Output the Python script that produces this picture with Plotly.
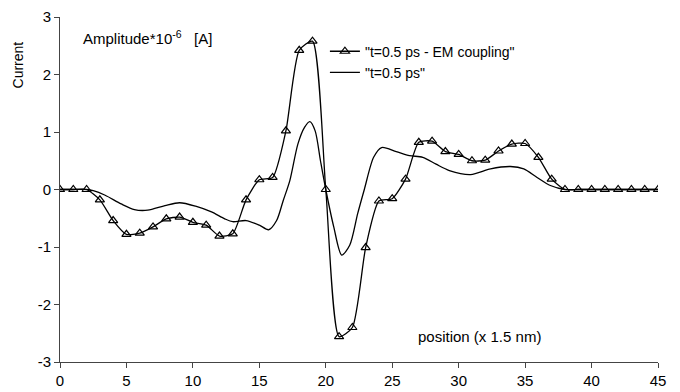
import plotly.graph_objects as go

# Triangle series: "t=0.5 ps - EM coupling" at integer positions 0..45
em_x = list(range(46))
em_y = [0, 0, 0, -0.18, -0.54, -0.78, -0.76, -0.65, -0.51, -0.48,
        -0.57, -0.62, -0.81, -0.77, -0.18, 0.17, 0.21, 1.02, 2.42, 2.58,
        0.0, -2.56, -2.40, -1.01, -0.20, -0.16, 0.18, 0.82, 0.84, 0.66,
        0.61, 0.50, 0.51, 0.67, 0.79, 0.80, 0.56, 0.18, 0, 0,
        0, 0, 0, 0, 0, 0]

# Smooth series: "t=0.5 ps"
pl_x = [0, 1, 2, 2.5, 3.4, 4.6, 5.6, 6.6, 7.9, 9.0, 10.2, 11.4, 12.4, 13, 14,
        15, 15.7, 16.3, 16.8, 17.3, 17.9, 18.4, 18.8, 19.2, 19.6, 20, 20.6,
        21.2, 21.8, 22.4, 22.9, 23.6, 24.2, 25.3, 26.3, 27.3, 28.3, 29.3,
        30.9, 32.4, 33.9, 34.9, 35.9, 36.9, 38, 39, 40, 41, 42, 43, 44, 45]
pl_y = [0, 0, 0, -0.02, -0.10, -0.25, -0.35, -0.36, -0.28, -0.23, -0.29,
        -0.39, -0.51, -0.56, -0.54, -0.62, -0.70, -0.54, -0.19, 0.16, 0.79,
        1.08, 1.18, 1.02, 0.50, 0.0, -0.65, -1.14, -0.97, -0.42, 0.0, 0.56,
        0.73, 0.66, 0.59, 0.56, 0.44, 0.33, 0.26, 0.36, 0.40, 0.36, 0.21,
        0.07, 0, 0, 0, 0, 0, 0, 0, 0]

x_ticks = [0, 5, 10, 15, 20, 25, 30, 35, 40, 45]
y_ticks = [3, 2, 1, 0, -1, -2, -3]
y_ticktext = ["3", "2", "1", "0", "-1", "-2", "-3"]

FONT = "Liberation Sans, Arial, sans-serif"

fig = go.Figure()
fig.add_trace(go.Scatter(
    x=em_x, y=em_y, mode="lines+markers", name='"t=0.5 ps - EM coupling"',
    line=dict(color="black", width=1.3, shape="spline", smoothing=0.6),
    marker=dict(symbol="triangle-up-open", size=8, color="black",
                line=dict(width=1.2, color="black")),
))
fig.add_trace(go.Scatter(
    x=pl_x, y=pl_y, mode="lines", name='"t=0.5 ps"',
    line=dict(color="black", width=1.3, shape="spline", smoothing=0.8),
))

# page body has an 8px margin, so the figure is sized/offset to compensate
fig.update_layout(
    width=672, height=384,
    margin=dict(l=52, r=22, t=9, b=30, autoexpand=False),
    paper_bgcolor="white", plot_bgcolor="white",
    font=dict(family=FONT, color="black", size=13),
    showlegend=True,
    legend=dict(x=0.443, y=0.946, xanchor="left", yanchor="top",
                bgcolor="rgba(0,0,0,0)", font=dict(size=14, family=FONT),
                itemwidth=30, tracegroupgap=2),
    xaxis=dict(range=[0, 45], tickvals=x_ticks, showgrid=False, zeroline=False,
               showline=True, linecolor="#444", linewidth=1, automargin=False,
               ticks="outside", ticklen=5, tickcolor="#444",
               ticklabeloverflow="allow",
               tickfont=dict(size=15, family=FONT)),
    yaxis=dict(range=[-3, 3], tickvals=y_ticks, ticktext=y_ticktext,
               showgrid=False, zeroline=False, automargin=False,
               showline=True, linecolor="#444", linewidth=1,
               ticks="outside", ticklen=5, tickcolor="#444",
               ticklabeloverflow="allow",
               tickfont=dict(size=15, family=FONT)),
    annotations=[
        dict(text="Current", textangle=-90, xref="paper", yref="paper",
             x=-0.07, y=0.86, xanchor="center", yanchor="middle",
             showarrow=False, font=dict(size=14, family=FONT)),
        dict(text="Amplitude*10<sup>-6</sup>   [A]", xref="paper", yref="paper",
             x=0.035, y=0.94, xanchor="left", yanchor="middle",
             showarrow=False, font=dict(size=15, family=FONT)),
        dict(text="position (x 1.5 nm)", xref="paper", yref="paper",
             x=0.595, y=0.075, xanchor="left", yanchor="middle",
             showarrow=False, font=dict(size=15, family=FONT)),
    ],
)

fig.write_html("out.html")
